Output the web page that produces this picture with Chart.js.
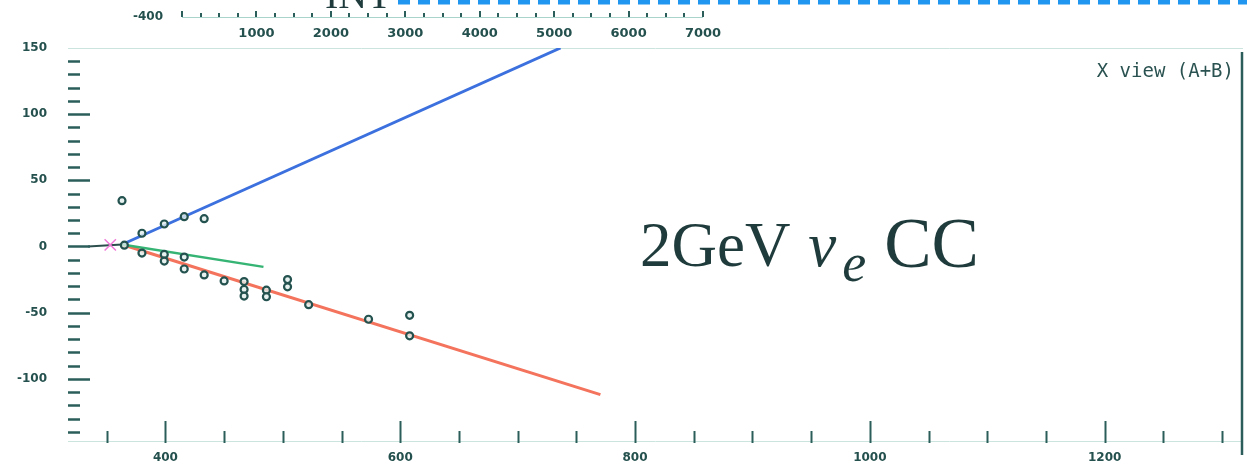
<!DOCTYPE html>
<html>
<head>
<meta charset="utf-8">
<script src="https://cdn.jsdelivr.net/npm/chart.js@4.4.1/dist/chart.umd.min.js"></script>
<style>
html,body{margin:0;padding:0;background:#fff;}
#wrap{width:1247px;height:472px;}
</style>
</head>
<body>
<div id="wrap"><canvas id="myChart" width="1247" height="472"></canvas></div>
<script>
// axes
var xMin = 317, xMax = 1317;
var xTickStep = 50, xLabelStep = 200;   // labels 400, 600, ... 1200
var yMin = -147, yMax = 150;
var yTickStep = 10, yLabelStep = 50;    // labels -100 ... 150
var topMin = -1532, topMax = 14241;
var topLabels = [1000, 2000, 3000, 4000, 5000, 6000, 7000];

// hits
var hitX = [363, 365, 380, 399, 416, 433, 380, 399, 399, 416, 416, 433, 450, 467, 467, 467, 486, 486, 504, 504, 522, 573, 608, 608];
var hitY = [34.6, 1, 10, 17, 22.5, 21, -5, -6, -11, -8, -17, -21.5, -26, -26.5, -32.5, -37.5, -33, -38, -25, -30.5, -44, -55, -52, -67.5];

// reconstructed tracks
var blueX = [363, 736.5], blueY = [1.5, 150];
var greenX = [363, 483.5], greenY = [1.5, -15.4];
var redX = [363, 770.5], redY = [1.5, -112];
var beamX = [334, 363], beamY = [0, 1.5];
var vertexX = [353], vertexY = [1.2];

function pts(xs, ys) {
  return xs.map(function(x, i) { return {x: x, y: ys[i]}; });
}

var tickColor = '#2b5e5a';
var labelFont = {family: 'DejaVu Sans', size: 12, weight: 'bold'};
var topFont = {family: 'DejaVu Sans', size: 13, weight: 'bold'};
var labelColor = '#24504d';

var decor = {
  id: 'decor',
  afterDraw: function(chart) {
    var ctx = chart.ctx, a = chart.chartArea;
    var sx = chart.scales.x, sy = chart.scales.y, st = chart.scales.x2;
    ctx.save();
    ctx.strokeStyle = tickColor;

    // inner ticks on the y axis
    ctx.lineWidth = 2.5;
    sy.ticks.forEach(function(t) {
      if (t.value >= yMax) return;
      var py = Math.round(sy.getPixelForValue(t.value)) + 0.5;
      var len = t.value % yLabelStep === 0 ? 22 : 12;
      ctx.beginPath(); ctx.moveTo(a.left, py); ctx.lineTo(a.left + len, py); ctx.stroke();
    });
    // inner ticks on the x axis
    ctx.lineWidth = 2;
    sx.ticks.forEach(function(t) {
      var px = Math.round(sx.getPixelForValue(t.value)) + 0.5;
      var len = t.value % xLabelStep === 0 ? 20 : 10;
      ctx.beginPath(); ctx.moveTo(px, a.bottom + 2); ctx.lineTo(px, a.bottom - len); ctx.stroke();
    });

    // right frame
    ctx.lineWidth = 2.5;
    ctx.beginPath(); ctx.moveTo(a.right, a.top + 4); ctx.lineTo(a.right, a.bottom + 14); ctx.stroke();

    // remnant axis of the upper panel
    var p0 = st.getPixelForValue(0), p1 = st.getPixelForValue(7000);
    ctx.strokeStyle = '#a9d4cb'; ctx.lineWidth = 1;
    ctx.beginPath(); ctx.moveTo(p0, 17.5); ctx.lineTo(p1, 17.5); ctx.stroke();
    ctx.strokeStyle = tickColor; ctx.lineWidth = 2;
    for (var v = 0; v <= 7000; v += 250) {
      var px = Math.round(st.getPixelForValue(v));
      ctx.beginPath(); ctx.moveTo(px, 17); ctx.lineTo(px, v % 1000 === 0 ? 11 : 13); ctx.stroke();
    }
    ctx.fillStyle = labelColor;
    ctx.font = 'bold 12px "DejaVu Sans"';
    ctx.textAlign = 'right'; ctx.textBaseline = 'middle';
    ctx.fillText('-400', 163, 17);

    // blue dashed frame above
    ctx.strokeStyle = '#2196f0'; ctx.lineWidth = 5;
    ctx.setLineDash([12, 8]);
    ctx.beginPath(); ctx.moveTo(398, 2); ctx.lineTo(1247, 2); ctx.stroke();
    ctx.setLineDash([]);
    ctx.fillStyle = '#1f3b3b';
    ctx.font = '40px "Liberation Serif"';
    ctx.textAlign = 'left'; ctx.textBaseline = 'alphabetic';
    ctx.fillText('INT', 325, 8);

    // view label
    ctx.fillStyle = '#2a5250';
    ctx.font = '19px "DejaVu Sans Mono"';
    ctx.textAlign = 'right'; ctx.textBaseline = 'middle';
    ctx.fillText('X view (A+B)', 1234, 72);

    // event label
    ctx.fillStyle = '#1f3b3b';
    ctx.textAlign = 'left'; ctx.textBaseline = 'alphabetic';
    var x0 = 640, base = 266;
    ctx.font = '63px "Liberation Serif"';
    ctx.fillText('2GeV', x0, base);
    x0 += ctx.measureText('2GeV ').width + 2;
    ctx.font = 'italic 63px "Liberation Serif"';
    ctx.fillText('\u03bd', x0, base);
    x0 += ctx.measureText('\u03bd').width + 6;
    ctx.font = 'italic 54px "Liberation Serif"';
    ctx.fillText('e', x0, base + 15);
    x0 += ctx.measureText('e').width + 18;
    ctx.font = '71px "Liberation Serif"';
    ctx.fillText('CC', x0, base + 1);
    ctx.restore();
  }
};

function trackSet(xs, ys, color, w) {
  return {
    data: pts(xs, ys), showLine: true, borderColor: color, borderWidth: w,
    pointRadius: 0, fill: false
  };
}

var myChart = document.getElementById('myChart');
var grafica = new Chart(myChart, {
  type: 'scatter',
  data: {
    datasets: [
      {
        data: pts(hitX, hitY), pointRadius: 3.5, pointBorderWidth: 2.2,
        pointBorderColor: '#23524f', pointBackgroundColor: 'rgba(225,238,235,0.8)'
      },
      {
        data: pts(vertexX, vertexY), pointStyle: 'crossRot', pointRadius: 8,
        pointBorderWidth: 1.5, pointBorderColor: '#f07ad8'
      },
      trackSet(beamX, beamY, '#2c4f4d', 2),
      trackSet(greenX, greenY, '#35b474', 2.5),
      trackSet(blueX, blueY, '#3b70de', 3),
      trackSet(redX, redY, '#f4735c', 3)
    ]
  },
  options: {
    responsive: false,
    animation: false,
    layout: {autoPadding: false, padding: {left: 0, right: 5, top: 0, bottom: 0}},
    plugins: {legend: {display: false}, tooltip: {enabled: false}},
    scales: {
      x: {
        type: 'linear', position: 'bottom', min: xMin, max: xMax,
        ticks: {
          autoSkip: false, maxRotation: 0, padding: 10,
          font: labelFont, color: labelColor,
          callback: function(v) { return v % xLabelStep === 0 ? String(v) : ''; }
        },
        afterBuildTicks: function(s) {
          var t = [];
          for (var v = Math.ceil(xMin / xTickStep) * xTickStep; v <= xMax; v += xTickStep) t.push({value: v});
          s.ticks = t;
        },
        afterFit: function(s) { s.height = 31; },
        grid: {drawOnChartArea: false, drawTicks: false},
        border: {display: true, color: '#cbe5de', dash: [3, 2], width: 1}
      },
      x2: {
        type: 'linear', position: 'top', min: topMin, max: topMax,
        ticks: {
          autoSkip: false, maxRotation: 0, padding: 7, font: topFont, color: labelColor,
          callback: function(v) { return String(v); }
        },
        afterBuildTicks: function(s) { s.ticks = topLabels.map(function(v) { return {value: v}; }); },
        afterFit: function(s) { s.height = 48; },
        grid: {drawOnChartArea: false, drawTicks: false},
        border: {display: true, color: '#cbe5de', dash: [3, 2], width: 1}
      },
      y: {
        type: 'linear', min: yMin, max: yMax,
        ticks: {
          autoSkip: false, padding: 21,
          font: labelFont, color: labelColor,
          callback: function(v) { return v % yLabelStep === 0 ? String(v) : ''; }
        },
        afterBuildTicks: function(s) {
          var t = [];
          for (var v = Math.ceil(yMin / yTickStep) * yTickStep; v <= yMax; v += yTickStep) t.push({value: v});
          s.ticks = t;
        },
        afterFit: function(s) { s.width = 68; },
        grid: {drawOnChartArea: false, drawTicks: false},
        border: {display: false}
      }
    }
  },
  plugins: [decor]
});
</script>
</body>
</html>
